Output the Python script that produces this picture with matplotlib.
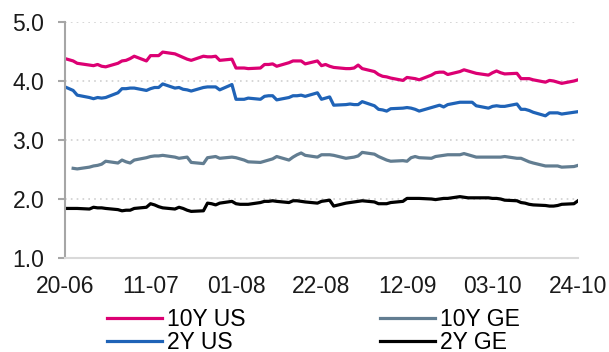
import numpy as np
import pandas as pd
import matplotlib
matplotlib.use("Agg")
import matplotlib.pyplot as plt
import matplotlib.dates as mdates

plt.rcParams['font.family'] = ['Liberation Sans', 'DejaVu Sans']

# business days 20-06 .. 24-10
dates = pd.bdate_range('2023-06-20', '2023-10-24')
tick_dates = pd.date_range('2023-06-20', '2023-10-24', freq='21D')

us10 = [4.38, 4.36, 4.34, 4.30, 4.27, 4.26, 4.28, 4.25, 4.24, 4.30,
        4.34, 4.35, 4.38, 4.42, 4.34, 4.43, 4.43, 4.43, 4.49, 4.46,
        4.43, 4.40, 4.37, 4.35, 4.42, 4.41, 4.41, 4.42, 4.35, 4.37,
        4.22, 4.22, 4.22, 4.21, 4.22, 4.28, 4.28, 4.29, 4.25, 4.31,
        4.34, 4.34, 4.34, 4.29, 4.34, 4.26, 4.28, 4.25, 4.23, 4.21,
        4.21, 4.22, 4.27, 4.21, 4.16, 4.11, 4.08, 4.07, 4.05, 4.01,
        4.06, 4.05, 4.04, 4.02, 4.10, 4.14, 4.15, 4.15, 4.11, 4.16,
        4.19, 4.17, 4.15, 4.13, 4.10, 4.14, 4.17, 4.14, 4.12, 4.13,
        4.04, 4.04, 4.04, 4.02, 3.98, 4.01, 4.00, 3.98, 3.96, 4.00,
        4.02]

us2 = [3.90, 3.87, 3.84, 3.76, 3.72, 3.70, 3.72, 3.71, 3.72, 3.80,
       3.87, 3.87, 3.88, 3.88, 3.84, 3.87, 3.89, 3.89, 3.95, 3.88,
       3.89, 3.86, 3.85, 3.83, 3.89, 3.90, 3.90, 3.90, 3.85, 3.94,
       3.69, 3.69, 3.69, 3.71, 3.69, 3.74, 3.75, 3.75, 3.68, 3.72,
       3.75, 3.75, 3.76, 3.74, 3.80, 3.69, 3.71, 3.73, 3.59, 3.60,
       3.61, 3.60, 3.60, 3.65, 3.58, 3.52, 3.51, 3.49, 3.53, 3.54,
       3.55, 3.54, 3.52, 3.49, 3.55, 3.57, 3.59, 3.56, 3.60, 3.64,
       3.64, 3.64, 3.64, 3.58, 3.54, 3.57, 3.58, 3.57, 3.57, 3.61,
       3.52, 3.52, 3.50, 3.47, 3.41, 3.46, 3.46, 3.46, 3.44, 3.47,
       3.48]

ge10 = [np.nan, np.nan, 2.52, 2.51, 2.54, 2.56, 2.57, 2.59, 2.64, 2.61,
        2.66, 2.63, 2.61, 2.66, 2.70, 2.72, 2.73, 2.73, 2.74, 2.71,
        2.69, 2.70, 2.71, 2.62, 2.60, 2.70, 2.71, 2.72, 2.69, 2.71,
        2.70, 2.68, 2.66, 2.63, 2.62, 2.64, 2.66, 2.68, 2.72, 2.66,
        2.71, 2.75, 2.78, 2.74, 2.71, 2.75, 2.75, 2.75, 2.74, 2.69,
        2.70, 2.71, 2.73, 2.79, 2.76, 2.72, 2.69, 2.66, 2.64, 2.65,
        2.64, 2.70, 2.72, 2.70, 2.69, 2.72, 2.73, 2.74, 2.75, 2.75,
        2.77, 2.75, 2.73, 2.71, 2.71, 2.71, 2.71, 2.71, 2.72, 2.69,
        2.69, 2.66, 2.63, 2.61, 2.56, 2.56, 2.56, 2.56, 2.54, 2.55,
        2.57]

ge2 = [1.84, 1.84, 1.84, 1.84, 1.83, 1.86, 1.85, 1.85, 1.84, 1.82,
       1.80, 1.81, 1.81, 1.84, 1.86, 1.92, 1.90, 1.87, 1.85, 1.83,
       1.86, 1.84, 1.81, 1.79, 1.80, 1.93, 1.92, 1.90, 1.93, 1.96,
       1.92, 1.91, 1.91, 1.91, 1.94, 1.96, 1.96, 1.97, 1.96, 1.94,
       1.97, 1.97, 1.96, 1.95, 1.93, 1.96, 1.97, 1.98, 1.88, 1.93,
       1.94, 1.95, 1.96, 1.97, 1.95, 1.92, 1.92, 1.92, 1.94, 1.96,
       2.01, 2.01, 2.01, 2.01, 2.00, 1.99, 2.00, 2.01, 2.01, 2.04,
       2.03, 2.02, 2.02, 2.02, 2.02, 2.01, 2.01, 2.00, 1.98, 1.97,
       1.94, 1.93, 1.91, 1.90, 1.89, 1.88, 1.88, 1.89, 1.91, 1.92,
       1.97]

fig = plt.figure(figsize=(6.09, 3.52), dpi=100)
ax = fig.add_axes([65/609, 1-258/352, (578-65)/609, (258-22)/352])

l1, = ax.plot(dates, us10, color='#DC0073', lw=2.3, label='10Y US')
l2, = ax.plot(dates, us2, color='#1F63B7', lw=2.3, label='2Y US')
l3, = ax.plot(dates, ge10, color='#627D91', lw=2.3, label='10Y GE')
l4, = ax.plot(dates, ge2, color='black', lw=2.3, label='2Y GE')

ax.set_ylim(1, 5)
ax.set_yticks([1, 2, 3, 4, 5])
ax.yaxis.set_major_formatter(matplotlib.ticker.FormatStrFormatter('%.1f'))
ax.set_xlim(dates[0], dates[-1])
ax.set_xticks(tick_dates)
ax.xaxis.set_major_formatter(mdates.DateFormatter('%d-%m'))

ax.grid(axis='y', color='#D0D0D0', ls=(0, (1, 2.5)), lw=1.2)
for s in ['top', 'right']:
    ax.spines[s].set_visible(False)
ax.spines['left'].set_color('#A6A6A6')
ax.spines['left'].set_linewidth(1.5)
ax.spines['bottom'].set_color('#D9D9D9')
ax.spines['bottom'].set_linewidth(1.5)
ax.tick_params(axis='y', length=5, width=1.5, color='#A6A6A6', pad=10,
               labelsize=16.5, labelcolor='#1A1A1A')
ax.tick_params(axis='x', length=0, pad=12, labelsize=16.5, labelcolor='#1A1A1A')

fig.legend(handles=[l1, l2, l3, l4], ncol=2, frameon=False, fontsize=16.5,
           loc='upper left', bbox_to_anchor=(107/609, 1-308/352),
           borderpad=0, borderaxespad=0, handlelength=2.4, handletextpad=0.2,
           columnspacing=5.9, labelspacing=0.0)

fig.savefig('out.png', dpi=100)
